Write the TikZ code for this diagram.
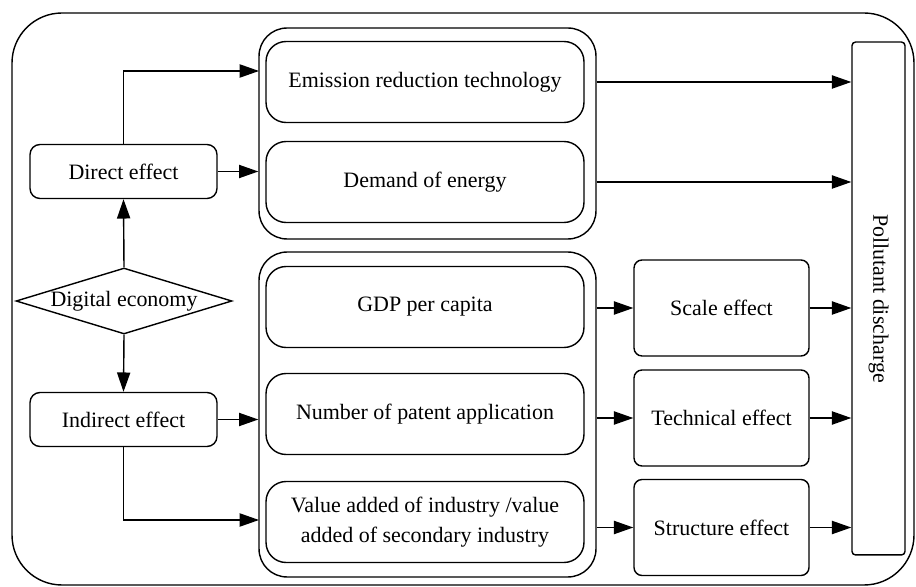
\documentclass[tikz,border=0pt]{standalone}
\usepackage{fontspec}
\setmainfont{Liberation Serif}
\usepackage{graphicx}
\usetikzlibrary{arrows.meta,shapes.geometric}

\begin{document}
\begin{tikzpicture}[x=0.02cm, y=-0.02cm, thick, font=\fontsize{12.5}{17}\selectfont,
  ar/.style={-{Triangle[length=11pt,width=7.5pt]}},
  grp/.style={draw, rounded corners=0.56cm, minimum width=6.74cm},
  inbox/.style={draw, rounded corners=0.4cm, minimum width=6.36cm, minimum height=1.62cm, align=center},
  effbox/.style={draw, rounded corners=0.16cm, minimum width=3.5cm, minimum height=1.92cm},
  sidebox/.style={draw, rounded corners=0.2cm, minimum width=3.74cm, minimum height=1.08cm}]
  \useasboundingbox (0,0) rectangle (916,587);
  \draw[rounded corners=1cm] (12,13) rectangle (914,585);

  \node[grp, minimum height=4.22cm] (grpA) at (427.5,133.5) {};
  \node[grp, minimum height=6.5cm] (grpB) at (427.5,414.5) {};

  \node[inbox] (emis) at (425,82) {Emission reduction technology};
  \node[inbox] (demand) at (425,182) {Demand of energy};
  \node[inbox] (gdp) at (425,307) {GDP per capita};
  \node[inbox] (patent) at (425,414) {Number of patent application};
  \node[inbox] (value) at (425,522) {Value added of industry /value\\added of secondary industry};

  \node[effbox] (scale) at (721.5,308) {Scale effect};
  \node[effbox] (tech) at (721.5,418) {Technical effect};
  \node[effbox] (struct) at (721.5,527.5) {Structure effect};

  \node[draw, rounded corners=2pt, minimum width=1.06cm, minimum height=10.26cm] (pollut)
    at (878.5,298.5) {\rotatebox{-90}{Pollutant discharge}};

  \node[sidebox] (direct) at (123.5,171.5) {Direct effect};
  \node[sidebox] (indirect) at (123.5,419.5) {Indirect effect};
  \node[draw, diamond, aspect=3.3, inner sep=0pt, minimum width=4.32cm, minimum height=1.32cm]
    (digital) at (124,301) {Digital economy};

  \coordinate (dtop) at (259,71);
  \coordinate (ibot) at (259,520);

  \draw[ar] (digital.north) -- (direct.south);
  \draw[ar] (digital.south) -- (indirect.north);
  \draw[ar] (direct.north) |- (dtop);
  \draw[ar] (direct) -- (direct -| grpA.west);
  \draw[ar] (indirect) -- (indirect -| grpB.west);
  \draw[ar] (indirect.south) |- (ibot);

  \draw[ar] (emis -| grpA.east) -- (emis -| pollut.west);
  \draw[ar] (demand -| grpA.east) -- (demand -| pollut.west);
  \foreach \e in {scale, tech, struct} {
    \draw[ar] (\e -| grpB.east) -- (\e);
    \draw[ar] (\e) -- (\e -| pollut.west);
  }
\end{tikzpicture}
\end{document}
